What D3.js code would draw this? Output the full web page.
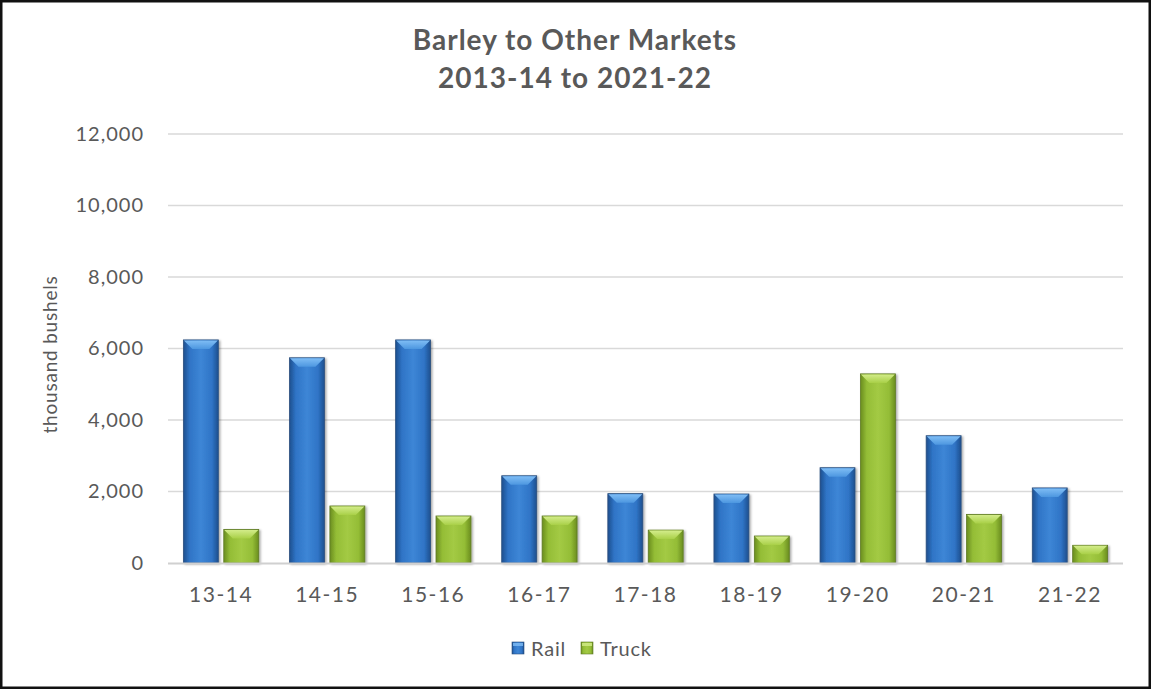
<!DOCTYPE html>
<html>
<head>
<meta charset="utf-8">
<script src="https://cdn.jsdelivr.net/npm/d3@7"></script>
<style>
  html, body { margin: 0; padding: 0; background: #fff; }
  svg { display: block; font-family: Lato, "Open Sans", sans-serif; }
</style>
</head>
<body>
<svg id="chart" width="1151" height="689"></svg>
<script>
// Barley shipments to other markets, thousand bushels
const categories = ["13-14", "14-15", "15-16", "16-17", "17-18", "18-19", "19-20", "20-21", "21-22"];
const seriesNames = ["Rail", "Truck"];
const railValues  = [6240, 5740, 6240, 2440, 1940, 1930, 2665, 3560, 2100];
const truckValues = [940, 1595, 1315, 1315, 920, 755, 5290, 1360, 495];
const yTicks = [0, 2000, 4000, 6000, 8000, 10000, 12000];
const titleLines = ["Barley to Other Markets", "2013-14 to 2021-22"];
const yAxisTitle = "thousand bushels";

const W = 1151, H = 689;
const plot = { left: 168, right: 1123, top: 134, bottom: 563 };
const textColor = "#595959";

const palette = {
  Rail:  { dark: "#1d4f8e", mid: "#2f74c6", light: "#3d86d6", cap: "#7fbdf5", capMid: "#4d97e0", stroke: "#2a4f7e" },
  Truck: { dark: "#6a8d1f", mid: "#94bd36", light: "#a3ca44", cap: "#d3ec8a", capMid: "#a9d048", stroke: "#5f7a25" }
};

const svg = d3.select("#chart");
const defs = svg.append("defs");

// body gradient: dark edges, lighter centre
seriesNames.forEach(s => {
  const c = palette[s];
  const g = defs.append("linearGradient").attr("id", "body-" + s)
    .attr("x1", "0").attr("x2", "1").attr("y1", "0").attr("y2", "0");
  g.append("stop").attr("offset", "0").attr("stop-color", c.dark);
  g.append("stop").attr("offset", "0.18").attr("stop-color", c.mid);
  g.append("stop").attr("offset", "0.5").attr("stop-color", c.light);
  g.append("stop").attr("offset", "0.82").attr("stop-color", c.mid);
  g.append("stop").attr("offset", "1").attr("stop-color", c.dark);

  const t = defs.append("linearGradient").attr("id", "cap-" + s)
    .attr("x1", "0").attr("x2", "0").attr("y1", "0").attr("y2", "1");
  t.append("stop").attr("offset", "0").attr("stop-color", c.cap);
  t.append("stop").attr("offset", "1").attr("stop-color", c.capMid);
});

const shadow = defs.append("filter").attr("id", "shadow")
  .attr("x", "-20%").attr("y", "-5%").attr("width", "150%").attr("height", "115%");
shadow.append("feDropShadow").attr("dx", 1.5).attr("dy", 1).attr("stdDeviation", 1.3)
  .attr("flood-color", "#000").attr("flood-opacity", 0.35);

// outer frame
svg.append("rect").attr("x", 1.25).attr("y", 1.25).attr("width", W - 2.5).attr("height", H - 2.5)
  .attr("fill", "#fff").attr("stroke", "#111").attr("stroke-width", 2.5);

// title
svg.append("g").selectAll("text").data(titleLines).join("text")
  .attr("x", 575).attr("y", (d, i) => 50 + i * 38)
  .attr("text-anchor", "middle")
  .attr("fill", textColor)
  .attr("font-size", 28).attr("font-weight", 700)
  .attr("letter-spacing", 1)
  .text(d => d);

// scales
const y = d3.scaleLinear().domain([0, 12000]).range([plot.bottom, plot.top]);
const x0 = d3.scaleBand().domain(categories).range([plot.left, plot.right])
  .paddingInner(0.29).paddingOuter(0.145);
const x1 = d3.scaleBand().domain(seriesNames).range([0, x0.bandwidth()]).paddingInner(0.135);

// gridlines
svg.append("g").selectAll("line").data(yTicks.filter(t => t > 0)).join("line")
  .attr("x1", plot.left).attr("x2", plot.right)
  .attr("y1", d => y(d)).attr("y2", d => y(d))
  .attr("stroke", "#d9d9d9").attr("stroke-width", 1.5);

// y axis labels
const yAxis = d3.axisLeft(y).tickValues(yTicks).tickSize(0).tickPadding(0)
  .tickFormat(d3.format(","));
const yg = svg.append("g").attr("transform", `translate(${plot.left - 24},0)`).call(yAxis);
yg.select(".domain").remove();
yg.selectAll("text").attr("fill", textColor).attr("font-size", 20)
  .attr("letter-spacing", 1)
  .attr("font-family", "Lato, 'Open Sans', sans-serif");

// y axis title
svg.append("text")
  .attr("transform", `translate(57,${(plot.top + plot.bottom) / 2 + 6}) rotate(-90)`)
  .attr("text-anchor", "middle").attr("fill", textColor).attr("font-size", 19)
  .attr("letter-spacing", 0.8)
  .text(yAxisTitle);

// bars
const rows = categories.map((c, i) => ({ cat: c, values: [
  { s: "Rail", v: railValues[i] }, { s: "Truck", v: truckValues[i] }
]}));

const groups = svg.append("g").selectAll("g").data(rows).join("g")
  .attr("transform", d => `translate(${x0(d.cat)},0)`);

const bars = groups.selectAll("g").data(d => d.values).join("g")
  .attr("filter", "url(#shadow)");

bars.append("rect")
  .attr("x", d => x1(d.s))
  .attr("y", d => y(d.v))
  .attr("width", x1.bandwidth())
  .attr("height", d => y(0) - y(d.v))
  .attr("fill", d => `url(#body-${d.s})`)
  .attr("stroke", d => palette[d.s].stroke).attr("stroke-width", 0.8);

// bevelled top face
bars.append("path")
  .attr("d", d => {
    const xl = x1(d.s), xr = xl + x1.bandwidth(), yt = y(d.v);
    const h = Math.min(9, (y(0) - yt) / 2), inset = 9;
    return `M${xl + 0.5},${yt + 0.5}L${xr - 0.5},${yt + 0.5}L${xr - inset},${yt + h}L${xl + inset},${yt + h}Z`;
  })
  .attr("fill", d => `url(#cap-${d.s})`);

// x axis line
svg.append("line").attr("x1", plot.left).attr("x2", plot.right)
  .attr("y1", plot.bottom + 0.5).attr("y2", plot.bottom + 0.5)
  .attr("stroke", "#d0d0d0").attr("stroke-width", 2);

// x labels
const xAxis = d3.axisBottom(x0).tickSize(0).tickPadding(0);
const xg = svg.append("g").attr("transform", `translate(0,${plot.bottom + 24})`).call(xAxis);
xg.select(".domain").remove();
xg.selectAll("text").attr("fill", textColor).attr("font-size", 21)
  .attr("letter-spacing", 1.5)
  .attr("font-family", "Lato, 'Open Sans', sans-serif");

// legend
const legend = svg.append("g").attr("transform", "translate(512,642)");
const legendItems = legend.selectAll("g").data(seriesNames).join("g")
  .attr("transform", (d, i) => `translate(${i * 69},0)`);
legendItems.append("rect").attr("width", 12).attr("height", 12)
  .attr("fill", d => `url(#body-${d})`)
  .attr("stroke", d => palette[d].stroke).attr("stroke-width", 0.6);
legendItems.append("rect").attr("x", 1).attr("y", 1).attr("width", 10).attr("height", 3)
  .attr("fill", d => palette[d].cap).attr("opacity", 0.8);
legendItems.append("text").attr("x", 19).attr("y", 14)
  .attr("fill", textColor).attr("font-size", 20)
  .attr("letter-spacing", 0.8)
  .text(d => d);
</script>
</body>
</html>
